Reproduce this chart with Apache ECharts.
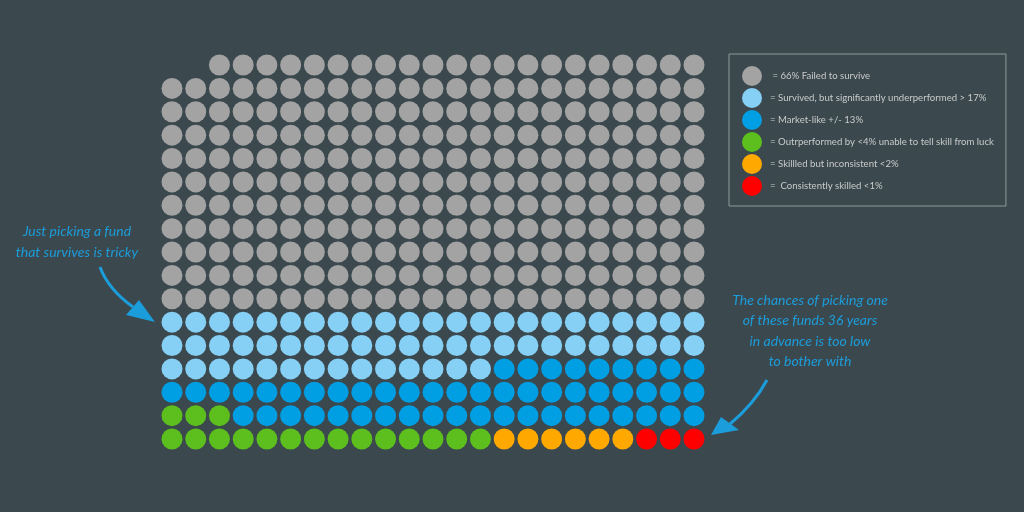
<!DOCTYPE html>
<html>
<head>
<meta charset="utf-8">
<script src="https://cdn.jsdelivr.net/npm/echarts@6/dist/echarts.min.js"></script>
<style>
html,body{margin:0;padding:0;background:#3b484d;}
#chart{width:1024px;height:512px;}
</style>
</head>
<body>
<div id="chart"></div>
<script>
// ---- data ----
const categories = [
  ' = 66% Failed to survive',
  '= Survived, but significantly underperformed > 17%',
  '= Market-like +/- 13%',
  '= Outrperformed by <4% unable to tell skill from luck',
  '= Skillled but inconsistent <2%',
  '=  Consistently skilled <1%'
];
// grid of dots: columns per row, rows, blank cells at the start (reading order)
const gridColumns = 23;
const gridRows = 17;
const leadingBlanks = 2;
// runs of dots in reading order (top-left to bottom-right)
const runCategory = [0, 1, 2, 3, 2, 3, 4, 5];
const runCount    = [251, 60, 32, 3, 20, 14, 6, 3];
const annotationLeft = ['Just picking a fund', 'that survives is tricky'];
const annotationRight = ['The chances of picking one', 'of these funds 36 years', 'in advance is too low', 'to bother with'];

// ---- build ----
const palette = ['#a3a3a3', '#87d0f5', '#009ee3', '#5cbf1e', '#ffa800', '#ff0000'];
const seriesData = categories.map(() => []);
let idx = leadingBlanks;
runCategory.forEach((c, i) => {
  for (let k = 0; k < runCount[i]; k++) {
    seriesData[c].push([idx % gridColumns, Math.floor(idx / gridColumns)]);
    idx++;
  }
});

const chart = echarts.init(document.getElementById('chart'), null, {renderer: 'canvas'});
const annColor = '#1c9ddb';
const option = {
  backgroundColor: '#3b484d',
  animation: false,
  grid: {left: 172, top: 65, width: 522, height: 374},
  xAxis: {type: 'value', min: 0, max: gridColumns - 1, show: false},
  yAxis: {type: 'value', min: 0, max: gridRows - 1, inverse: true, show: false},
  legend: {
    orient: 'vertical',
    left: 729, top: 54,
    padding: [12, 12, 10, 13],
    itemGap: 2,
    itemWidth: 20, itemHeight: 20,
    icon: 'circle',
    selectedMode: false,
    borderColor: '#8e9a9c',
    borderWidth: 1,
    textStyle: {color: '#c8cbcb', fontFamily: 'Lato', fontSize: 9.6, padding: [0, 0, 0, 3]},
    data: categories
  },
  series: categories.map((name, i) => ({
    type: 'scatter',
    name: name,
    data: seriesData[i],
    symbol: 'circle',
    symbolSize: 21,
    itemStyle: {color: palette[i], opacity: 1},
    emphasis: {disabled: true}
  })),
  graphic: [
    {
      type: 'text', x: 77, y: 221,
      style: {text: annotationLeft.join('\n'), font: 'italic 14px Lato', fill: annColor, align: 'center', verticalAlign: 'top', lineHeight: 21}
    },
    {
      type: 'text', x: 810, y: 290,
      style: {text: annotationRight.join('\n'), font: 'italic 14px Lato', fill: annColor, align: 'center', verticalAlign: 'top', lineHeight: 20.5}
    },
    {
      type: 'bezierCurve',
      shape: {x1: 100, y1: 267, cpx1: 108, cpy1: 289, x2: 133, y2: 307},
      style: {stroke: annColor, lineWidth: 3, fill: null}
    },
    {
      type: 'polygon',
      shape: {points: [[139, 300], [126, 315], [155, 322]]},
      style: {fill: annColor}
    },
    {
      type: 'bezierCurve',
      shape: {x1: 767, y1: 380, cpx1: 754, cpy1: 404, x2: 730, y2: 424},
      style: {stroke: annColor, lineWidth: 3, fill: null}
    },
    {
      type: 'polygon',
      shape: {points: [[721, 417], [739, 430], [711, 435]]},
      style: {fill: annColor}
    }
  ]
};
chart.setOption(option);
</script>
</body>
</html>
